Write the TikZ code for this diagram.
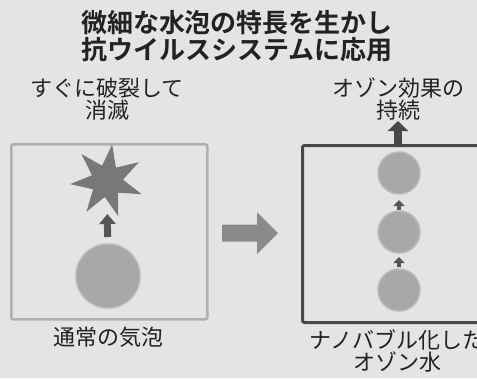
\documentclass[tikz,border=0pt]{standalone}
\usepackage{fontspec}
\newfontfamily\jp{Noto Sans CJK JP}
\newfontfamily\jpb{Noto Sans CJK JP Bold}
\usetikzlibrary{shapes.geometric,arrows.meta}
\definecolor{paper}{RGB}{228,228,226}
\definecolor{ink}{RGB}{34,34,34}
\definecolor{bub}{RGB}{168,168,168}
\definecolor{starc}{RGB}{120,120,120}
\definecolor{darkarr}{RGB}{85,85,85}
\definecolor{lbox}{RGB}{176,176,176}
\definecolor{rboxc}{RGB}{72,72,72}
\definecolor{bigarr}{RGB}{138,138,138}
\tikzset{
  label22/.style={font=\jp\fontsize{22}{22}\selectfont, text=ink, align=center, inner sep=0pt},
  titlestyle/.style={font=\jpb\fontsize{26}{27}\selectfont, text=ink, align=center, inner sep=0pt},
  bubble/.style={circle, fill=bub, draw=bub!70!paper, line width=1.5pt, inner sep=0pt},
  smallarr/.style={draw=darkarr, line width=7pt, -{Triangle[width=16pt,length=10pt]}},
  tinyarr/.style={draw=darkarr, line width=4pt, -{Triangle[width=11pt,length=6pt]}},
}
\begin{document}
\begin{tikzpicture}[x=1pt,y=-1pt]
\fill[paper] (0,0) rectangle (477,378);
\useasboundingbox (0,0) rectangle (477,378);
% title
\node[titlestyle] (title) at (237,36) {微細な水泡の特長を生かし\\抗ウイルスシステムに応用};
% top labels
\node[label22] (burst) at (107,99) {すぐに破裂して\\消滅};
\node[label22] (ozeff) at (398,99) {オゾン効果の\\持続};
% left box
\node[draw=lbox, line width=2.5pt, rounded corners=2pt, minimum width=196pt, minimum height=175pt, anchor=north west, inner sep=0pt] (leftbox) at (10,143) {};
\node[star, star points=7, star point ratio=2.3, minimum size=74pt, fill=starc, inner sep=0pt, rotate=-8] (starb) at (107,181) {};
\node[bubble, minimum size=64pt] (bigbub) at (108,276) {};
\draw[smallarr, shorten <=39pt, shorten >=33pt] (bigbub.center) -- (starb.center);
\node[label22] (normal) at (108,337) {通常の気泡};
% big arrow
\fill[bigarr] (222,224.5) -- (257,224.5) -- (257,212) -- (278,233) -- (257,254) -- (257,241.5) -- (222,241.5) -- cycle;
% right box
\node[draw=rboxc, line width=3pt, rounded corners=2pt, minimum width=200pt, minimum height=177pt, anchor=north west, inner sep=0pt] (rightbox) at (301,144) {};
\node[bubble, minimum size=42pt] (b1) at (399,173) {};
\node[bubble, minimum size=42pt] (b2) at (399,232) {};
\node[bubble, minimum size=42pt] (b3) at (399,290) {};
\draw[tinyarr, shorten <=23pt, shorten >=25pt] (b3.center) -- (b2.center);
\draw[tinyarr, shorten <=22pt, shorten >=27pt] (b2.center) -- (b1.center);
\coordinate (boxtop) at (398,144);
\coordinate (uptip) at (398,121);
\draw[draw=rboxc, line width=7.5pt, -{Triangle[width=20pt,length=10pt]}] (boxtop) -- (uptip);
\node[label22] (nano) at (397,351) {ナノバブル化した\\オゾン水};
\end{tikzpicture}
\end{document}
